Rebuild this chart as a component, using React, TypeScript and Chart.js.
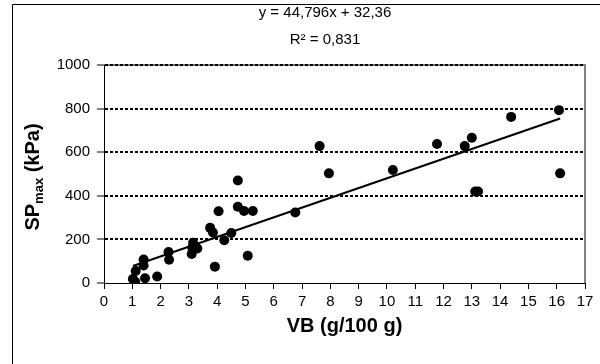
import React, { useEffect, useRef } from "react";
import { Chart, registerables } from "chart.js";

Chart.register(...registerables);

// Measured values (VB in g/100 g, SPmax in kPa)
const vbValues = [
  1.02, 1.1, 1.12, 1.4, 1.4, 1.45, 1.88, 2.28, 2.3, 3.1, 3.15, 3.3, 3.12, 3.75,
  3.85, 3.92, 4.05, 4.25, 4.5, 4.73, 4.73, 4.95, 5.08, 5.26, 6.76, 7.62, 7.95,
  10.21, 11.77, 12.75, 13.0, 13.12, 13.22, 14.39, 16.08, 16.12,
];
const spValues = [
  18, 5, 55, 108, 80, 22, 30, 142, 107, 133, 185, 158, 162, 253, 232, 75, 329,
  196, 229, 470, 350, 330, 125, 330, 323, 628, 503, 518, 638, 628, 666, 420,
  420, 762, 793, 503,
];

// Regression line
const slope = 44.796;
const intercept = 32.36;
const equationLabel = "y = 44,796x + 32,36";
const r2Label = "R\u00B2 = 0,831";

// Axes
const xMin = 0;
const xMax = 17;
const xStep = 1;
const yMin = 0;
const yMax = 1000;
const yStep = 200;
const xTitle = "VB (g/100 g)";
const yTitleMain = "SP";
const yTitleSub = "max";
const yTitleUnit = " (kPa)";

const FONT = "'Liberation Sans', Arial, sans-serif";

export default function App() {
  const canvasRef = useRef<HTMLCanvasElement | null>(null);

  useEffect(() => {
    const canvas = canvasRef.current;
    if (!canvas) return;

    const points = vbValues.map((x, i) => ({ x, y: spValues[i] }));
    const minX = Math.min(...vbValues);
    const maxX = Math.max(...vbValues);
    const trend = [
      { x: minX, y: slope * minX + intercept },
      { x: maxX, y: slope * maxX + intercept },
    ];

    const decorPlugin = {
      id: "decor",
      beforeDraw(chart: any) {
        const { ctx, chartArea } = chart;
        ctx.save();
        // outer frame
        ctx.strokeStyle = "#000";
        ctx.lineWidth = 1;
        ctx.beginPath();
        ctx.moveTo(12.5, 364);
        ctx.lineTo(12.5, 4.5);
        ctx.lineTo(600, 4.5);
        ctx.stroke();
        // plot area border (grey)
        ctx.strokeStyle = "#808080";
        ctx.lineWidth = 2;
        ctx.beginPath();
        ctx.moveTo(chartArea.left, chartArea.top);
        ctx.lineTo(chartArea.right, chartArea.top);
        ctx.lineTo(chartArea.right, chartArea.bottom);
        ctx.stroke();
        ctx.restore();
      },
      afterDraw(chart: any) {
        const { ctx, chartArea } = chart;
        ctx.save();
        ctx.fillStyle = "#000";
        // equation label
        ctx.font = `15px ${FONT}`;
        ctx.textAlign = "center";
        ctx.textBaseline = "middle";
        ctx.fillText(equationLabel, 325, 13);
        ctx.fillText(r2Label, 325, 40);
        // y title with subscript
        const mainFont = `bold 20px ${FONT}`;
        const subFont = `bold 13px ${FONT}`;
        ctx.font = mainFont;
        const w1 = ctx.measureText(yTitleMain).width;
        const w3 = ctx.measureText(yTitleUnit).width;
        ctx.font = subFont;
        const w2 = ctx.measureText(yTitleSub).width;
        const total = w1 + w2 + w3;
        const cy = (chartArea.top + chartArea.bottom) / 2;
        ctx.translate(32, cy + 3);
        ctx.rotate(-Math.PI / 2);
        ctx.textAlign = "left";
        ctx.textBaseline = "alphabetic";
        let x = -total / 2;
        ctx.font = mainFont;
        ctx.fillText(yTitleMain, x, 7);
        x += w1;
        ctx.font = subFont;
        ctx.fillText(yTitleSub, x, 11);
        x += w2;
        ctx.font = mainFont;
        ctx.fillText(yTitleUnit, x, 7);
        ctx.restore();
      },
    };

    const chart = new Chart(canvas, {
      type: "scatter",
      data: {
        datasets: [
          {
            label: "SPmax",
            data: points,
            backgroundColor: "#000",
            borderColor: "#000",
            pointRadius: 5,
            pointHoverRadius: 5,
            borderWidth: 0,
            order: 2,
          },
          {
            label: "Trend",
            data: trend,
            showLine: true,
            borderColor: "#000",
            borderWidth: 2,
            pointRadius: 0,
            fill: false,
            order: 1,
          } as any,
        ],
      },
      options: {
        responsive: false,
        animation: false,
        events: [],
        layout: { padding: { top: 65, right: 15, bottom: 19, left: 0 } },
        plugins: {
          legend: { display: false },
          title: { display: false },
          tooltip: { enabled: false },
        },
        scales: {
          x: {
            type: "linear",
            min: xMin,
            max: xMax,
            ticks: {
              stepSize: xStep,
              color: "#000",
              font: { size: 15, family: FONT },
              padding: 4,
              maxRotation: 0,
              autoSkip: false,
              callback: (v: any) => String(v),
            },
            grid: {
              drawOnChartArea: false,
              drawTicks: true,
              tickLength: 6,
              tickColor: "#000",
              tickWidth: 1,
            },
            border: { display: true, color: "#000", width: 1 },
            title: {
              display: true,
              text: xTitle,
              color: "#000",
              font: { size: 20, weight: "bold", family: FONT, lineHeight: 1.2 },
              padding: { top: 0, bottom: 7 },
            },
            afterFit: (scale: any) => {
              scale.height = 62;
            },
          },
          y: {
            type: "linear",
            min: yMin,
            max: yMax,
            ticks: {
              stepSize: yStep,
              color: "#000",
              font: { size: 15, family: FONT },
              padding: 7,
              callback: (v: any) => String(v),
            },
            grid: {
              drawOnChartArea: true,
              drawTicks: true,
              tickLength: 7,
              color: (ctx: any) =>
                ctx.tick && ctx.tick.value === 0 ? "rgba(0,0,0,0)" : "#000",
              lineWidth: 2,
              tickBorderDash: [],
              tickColor: "#000",
              tickWidth: 1,
            } as any,
            border: { display: true, color: "#000", width: 1, dash: [3, 2] },
            afterFit: (scale: any) => {
              scale.width = 104;
            },
          },
        },
      },
      plugins: [decorPlugin],
    });

    return () => chart.destroy();
  }, []);

  return (
    <div
      style={{
        position: "fixed",
        left: 0,
        top: 0,
        width: 600,
        height: 364,
        background: "#fff",
      }}
    >
      <canvas ref={canvasRef} width={600} height={364} />
    </div>
  );
}
